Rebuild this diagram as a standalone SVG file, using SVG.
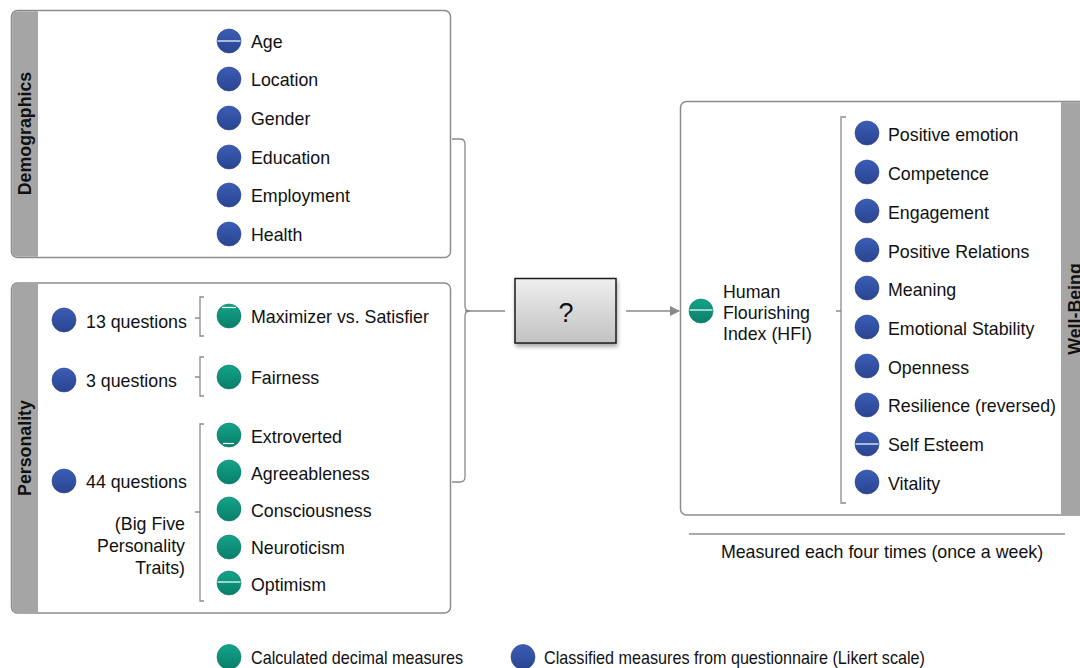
<svg xmlns="http://www.w3.org/2000/svg" width="1080" height="668" viewBox="0 0 1080 668">
  <defs>
    <linearGradient id="gBlue" x1="0" y1="0" x2="0" y2="1">
      <stop offset="0" stop-color="#3b5db6"/>
      <stop offset="1" stop-color="#2a4590"/>
    </linearGradient>
    <linearGradient id="gGreen" x1="0" y1="0" x2="0" y2="1">
      <stop offset="0" stop-color="#12a48a"/>
      <stop offset="1" stop-color="#0a7e69"/>
    </linearGradient>
    <linearGradient id="gBox" x1="0" y1="0" x2="0" y2="1">
      <stop offset="0" stop-color="#efefef"/>
      <stop offset="1" stop-color="#c2c2c2"/>
    </linearGradient>
    <filter id="shadow" x="-20%" y="-20%" width="140%" height="150%">
      <feGaussianBlur in="SourceAlpha" stdDeviation="2"/>
      <feOffset dx="1" dy="3"/>
      <feComponentTransfer><feFuncA type="linear" slope="0.35"/></feComponentTransfer>
      <feMerge><feMergeNode/><feMergeNode in="SourceGraphic"/></feMerge>
    </filter>
    <marker id="arrow" viewBox="0 0 10 10" refX="9" refY="5" markerWidth="10" markerHeight="10" markerUnits="userSpaceOnUse" orient="auto">
      <path d="M0,0 L10,5 L0,10 z" fill="#8a8a8a"/>
    </marker>
  </defs>
  <style>
    text { font-family: "Liberation Sans", Arial, sans-serif; font-size: 17.8px; fill: #111; }
    .title { font-weight: bold; }
    .big { font-size: 27px; }
    .panel { fill: #fff; stroke: #8c8c8c; stroke-width: 1.5; }
    .band { fill: #a5a5a5; }
    .blue { fill: url(#gBlue); stroke: #2a428a; stroke-width: 0.6; }
    .green { fill: url(#gGreen); stroke: #0a7763; stroke-width: 0.6; }
    .brk { fill: none; stroke: #8c8c8c; stroke-width: 1.3; }
    .flaw { stroke: #fff; stroke-width: 1.2; }
  </style>

  <!-- Demographics panel -->
  <g id="demographics">
    <rect class="panel" x="11.5" y="10.5" width="439" height="247" rx="6"/>
    <path class="band" d="M38,11.2 V256.8 H17.5 Q12.2,256.8 12.2,251.5 V16.5 Q12.2,11.2 17.5,11.2 Z"/>
    <text class="title" transform="translate(31,133.5) rotate(-90)" text-anchor="middle">Demographics</text>
    <circle class="blue" cx="229" cy="41" r="12"/><line class="flaw" x1="217.5" y1="41" x2="240.5" y2="41"/>
    <text x="251" y="47.5">Age</text>
    <circle class="blue" cx="229" cy="79" r="12"/>
    <text x="251" y="85.5">Location</text>
    <circle class="blue" cx="229" cy="118" r="12"/>
    <text x="251" y="124.5">Gender</text>
    <circle class="blue" cx="229" cy="157" r="12"/>
    <text x="251" y="163.5">Education</text>
    <circle class="blue" cx="229" cy="195" r="12"/>
    <text x="251" y="201.5">Employment</text>
    <circle class="blue" cx="229" cy="234" r="12"/>
    <text x="251" y="240.5">Health</text>
  </g>

  <!-- Personality panel -->
  <g id="personality">
    <rect class="panel" x="11.5" y="283" width="439" height="330" rx="6"/>
    <path class="band" d="M38,283.7 V612.3 H17.5 Q12.2,612.3 12.2,607 V289 Q12.2,283.7 17.5,283.7 Z"/>
    <text class="title" transform="translate(31,448) rotate(-90)" text-anchor="middle">Personality</text>

    <circle class="blue" cx="64" cy="320" r="12"/>
    <text x="86" y="327.5">13 questions</text>
    <circle class="blue" cx="64" cy="380" r="12"/>
    <text x="86" y="387">3 questions</text>
    <circle class="blue" cx="64" cy="481" r="12"/>
    <text x="86" y="488">44 questions</text>
    <text x="185" y="530" text-anchor="end">(Big Five</text>
    <text x="185" y="552" text-anchor="end">Personality</text>
    <text x="185" y="574" text-anchor="end">Traits)</text>

    <path class="brk" d="M204,297 H200 V336 H204 M195,318 H200"/>
    <path class="brk" d="M204,357 H200 V396 H204 M195,377 H200"/>
    <path class="brk" d="M204,424 H200 V601 H204 M195,512 H200"/>

    <circle class="green" cx="229" cy="316" r="12"/><line class="flaw" x1="222" y1="307.5" x2="236" y2="307.5"/>
    <text x="251" y="323">Maximizer vs. Satisfier</text>
    <circle class="green" cx="229" cy="377" r="12"/>
    <text x="251" y="384">Fairness</text>
    <circle class="green" cx="229" cy="435" r="12"/><line class="flaw" x1="223" y1="443.5" x2="234" y2="443.5"/>
    <text x="251" y="443">Extroverted</text>
    <circle class="green" cx="229" cy="472" r="12"/>
    <text x="251" y="480">Agreeableness</text>
    <circle class="green" cx="229" cy="509" r="12"/>
    <text x="251" y="517">Consciousness</text>
    <circle class="green" cx="229" cy="547" r="12"/>
    <text x="251" y="554">Neuroticism</text>
    <circle class="green" cx="229" cy="583" r="12"/><line class="flaw" x1="217.5" y1="582" x2="240.5" y2="582"/>
    <text x="251" y="591">Optimism</text>
  </g>

  <!-- Unknown model box -->
  <g id="model">
    <rect x="515" y="278.5" width="101" height="64.5" fill="url(#gBox)" stroke="#1a1a1a" stroke-width="1.5" filter="url(#shadow)"/>
    <text class="big" x="566" y="322" text-anchor="middle">?</text>
  </g>

  <!-- Well-being panel -->
  <g id="wellbeing">
    <rect class="panel" x="680.5" y="101.5" width="430" height="413.5" rx="6"/>
    <rect class="band" x="1061" y="102.2" width="30" height="412"/>
    <text class="title" transform="translate(1080.5,309) rotate(-90)" text-anchor="middle">Well-Being</text>

    <circle class="green" cx="701" cy="311" r="12"/><line class="flaw" x1="689.5" y1="310" x2="712.5" y2="310"/>
    <text x="723" y="298">Human</text>
    <text x="723" y="319">Flourishing</text>
    <text x="723" y="340">Index (HFI)</text>

    <path class="brk" d="M846,117 H841 V503 H846 M836,311 H841"/>

    <circle class="blue" cx="867" cy="133" r="12"/>
    <text x="888" y="141">Positive emotion</text>
    <circle class="blue" cx="867" cy="172" r="12"/>
    <text x="888" y="179.5">Competence</text>
    <circle class="blue" cx="867" cy="211" r="12"/>
    <text x="888" y="218.5">Engagement</text>
    <circle class="blue" cx="867" cy="250" r="12"/>
    <text x="888" y="257.5">Positive Relations</text>
    <circle class="blue" cx="867" cy="288" r="12"/>
    <text x="888" y="295.5">Meaning</text>
    <circle class="blue" cx="867" cy="327" r="12"/>
    <text x="888" y="334.5">Emotional Stability</text>
    <circle class="blue" cx="867" cy="366" r="12"/>
    <text x="888" y="373.5">Openness</text>
    <circle class="blue" cx="867" cy="405" r="12"/>
    <text x="888" y="412">Resilience (reversed)</text>
    <circle class="blue" cx="867" cy="444" r="12"/><line class="flaw" x1="855.5" y1="444" x2="878.5" y2="444"/>
    <text x="888" y="451">Self Esteem</text>
    <circle class="blue" cx="867" cy="482" r="12"/>
    <text x="888" y="489.5">Vitality</text>

    <line x1="689" y1="534" x2="1065" y2="534" stroke="#8c8c8c" stroke-width="1.3"/>
    <text x="882" y="558" text-anchor="middle">Measured each four times (once a week)</text>
  </g>

  <!-- Legend -->
  <g id="legend">
    <ellipse class="green" cx="229" cy="657" rx="12" ry="12.5"/>
    <text x="251" y="664" textLength="212" lengthAdjust="spacingAndGlyphs">Calculated decimal measures</text>
    <ellipse class="blue" cx="523" cy="657" rx="12" ry="12.5"/>
    <text x="544" y="664" textLength="381" lengthAdjust="spacingAndGlyphs">Classified measures from questionnaire (Likert scale)</text>
  </g>

  <!-- Connectors -->
  <g id="connectors" fill="none" stroke="#8a8a8a" stroke-width="1.3">
    <path d="M452,139 H460 Q465,139 465,144 V306 Q465,311 470,311 Q465,311 465,316 V477 Q465,482 460,482 H452"/>
    <line x1="465" y1="311" x2="505" y2="311"/>
    <line x1="626" y1="311" x2="679" y2="311" marker-end="url(#arrow)"/>
  </g>
</svg>
